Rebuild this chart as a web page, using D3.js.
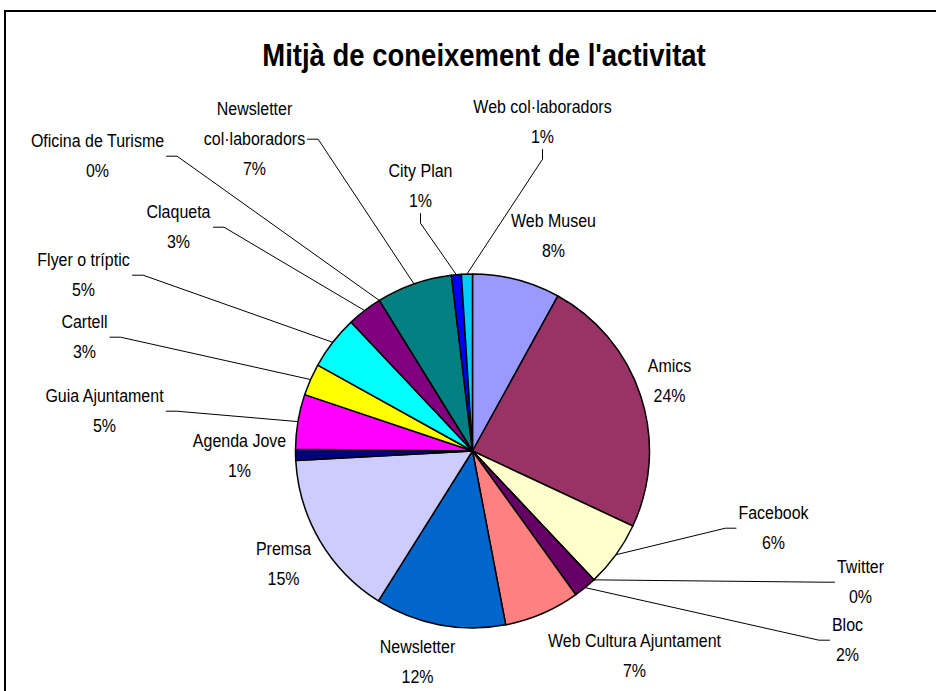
<!DOCTYPE html>
<html>
<head>
<meta charset="utf-8">
<script src="https://cdn.jsdelivr.net/npm/d3@7"></script>
<style>
  body { margin: 0; background: #fff; }
  text { font-family: "Liberation Sans", Arial, sans-serif; fill: #000; }
</style>
</head>
<body>
<svg id="chart" width="936" height="691"></svg>
<script>
// slices, clockwise from 12 o'clock
var categories = ["Web Museu", "Amics", "Facebook", "Twitter", "Bloc", "Web Cultura Ajuntament",
    "Newsletter", "Premsa", "Agenda Jove", "Guia Ajuntament", "Cartell", "Flyer o tríptic",
    "Claqueta", "Oficina de Turisme", "Newsletter\ncol·laboradors", "City Plan", "Web col·laboradors"];
var values = [8.0, 23.9, 6.0, 0, 2.1, 6.9, 11.9, 15.2, 1.0, 5.0, 2.9, 4.9, 3.2, 0, 6.9, 0.9, 1.0];
var colors = ["#9999FF", "#993366", "#FFFFCC", "#CCFFFF", "#660066", "#FF8080", "#0066CC", "#CCCCFF",
    "#000080", "#FF00FF", "#FFFF00", "#00FFFF", "#800080", "#800000", "#008080", "#0000FF", "#00CCFF"];
var title = "Mitjà de coneixement de l'activitat";

// label layout: offset of first baseline from the pie centre, and where the leader leaves the label
var labelOffsets = [[81, -224], [197, -79], [301, 68], [388, 122], [375, 180], [162, 196],
    [-55, 202], [-189, 104], [-233, -4], [-368, -49], [-388, -123], [-389, -185],
    [-294, -233], [-375, -304], [-218, -336], [-52, -274], [70, -338]];
var leaderSide = [null, null, "l", "l", "l", null, null, null, null, "r", "r", "r", "r", "r", "r", "b", "b"];

var width = 936, height = 691;
var cx = 472.5, cy = 451, radius = 177, lineGap = 30;
var stretch = 1.12; // excel text renders a little taller than plain arial

var svg = d3.select("#chart");

svg.append("rect")
    .attr("x", 5).attr("y", 11)
    .attr("width", width).attr("height", height)
    .attr("fill", "#fff")
    .attr("stroke", "#000")
    .attr("stroke-width", 2);

svg.append("text")
    .attr("text-anchor", "middle")
    .attr("transform", "translate(484,66) scale(1," + stretch + ")")
    .style("font-size", "27.5px")
    .style("font-weight", "bold")
    .text(title);

var total = d3.sum(values);
var pie = d3.pie().sort(null).value(function(d){ return d; });
var arcs = pie(values);
var arc = d3.arc().innerRadius(0).outerRadius(radius);

var g = svg.append("g").attr("transform", "translate(" + cx + "," + cy + ")");

g.selectAll("path.slice")
    .data(arcs)
    .enter()
    .append("path")
    .attr("class", "slice")
    .attr("d", arc)
    .attr("fill", function(d, i){ return colors[i]; })
    .attr("stroke", "#000")
    .attr("stroke-width", 1.5)
    .attr("stroke-linejoin", "round");

var labels = g.selectAll("g.lbl")
    .data(arcs)
    .enter()
    .append("g")
    .attr("class", "lbl")
    .attr("transform", function(d, i){ return "translate(" + labelOffsets[i][0] + "," + labelOffsets[i][1] + ")"; });

labels.each(function(d, i){
    var lines = categories[i].split("\n").concat([Math.round(d.value / total * 100) + "%"]);
    var t = d3.select(this).append("text")
        .attr("text-anchor", "middle")
        .attr("transform", "scale(1," + stretch + ")")
        .style("font-size", "16px");
    lines.forEach(function(s, k){
        t.append("tspan")
            .attr("x", 0)
            .attr("y", k * lineGap / stretch)
            .text(s);
    });
});

// leader lines: label box edge -> short elbow -> slice midpoint on the rim
labels.each(function(d, i){
    var side = leaderSide[i];
    if (!side) return;
    var b = this.getBBox();
    var ox = labelOffsets[i][0], oy = labelOffsets[i][1];
    var a = (d.startAngle + d.endAngle) / 2;
    var end = [radius * Math.sin(a), -radius * Math.cos(a)];
    var start, knee;
    if (side == "r") {
        start = [ox + b.x + b.width + 2, oy + b.y + b.height / 2];
        knee = [start[0] + 11, start[1]];
    } else if (side == "l") {
        start = [ox + b.x - 2, oy + b.y + b.height / 2];
        knee = [start[0] - 11, start[1]];
    } else {
        start = [ox + b.x + b.width / 2, oy + b.y + b.height + 2];
        knee = [start[0], start[1] + 10];
    }
    g.append("path")
        .attr("d", d3.line()([start, knee, end]))
        .attr("fill", "none")
        .attr("stroke", "#000")
        .attr("stroke-width", 1);
});
</script>
</body>
</html>
